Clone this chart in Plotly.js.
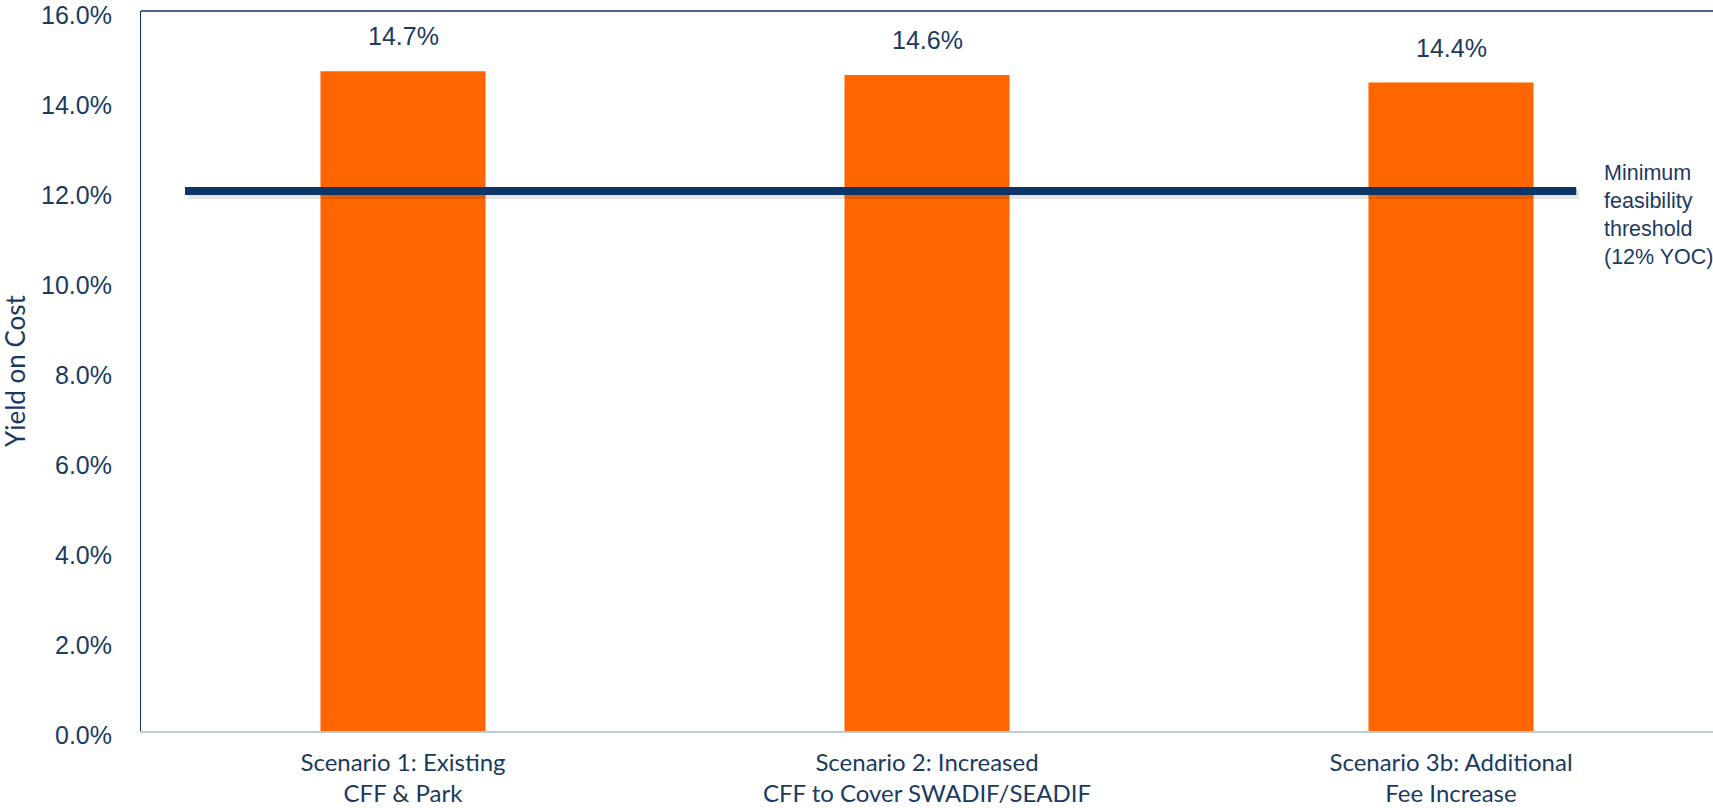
<!DOCTYPE html>
<html>
<head>
<meta charset="utf-8">
<script src="https://cdn.plot.ly/plotly-3.0.1.min.js"></script>
<style>
html,body{margin:0;padding:0;background:#fff;}
#chart{width:1713px;height:808px;}
</style>
</head>
<body>
<div id="chart"></div>
<script>
// ---- data ----
const categories = [
  "Scenario 1: Existing<br>CFF & Park",
  "Scenario 2: Increased<br>CFF to Cover SWADIF/SEADIF",
  "Scenario 3b: Additional<br>Fee Increase"
];
const yieldOnCost = [0.1466, 0.1458, 0.1441];
const dataLabels = ["14.7%", "14.6%", "14.4%"];
const thresholdValue = [0.12];
const thresholdLabel = ["Minimum<br>feasibility<br>threshold<br>(12% YOC)"];
const yTickVals = [0, 0.02, 0.04, 0.06, 0.08, 0.10, 0.12, 0.14, 0.16];
const yTickText = ["0.0%", "2.0%", "4.0%", "6.0%", "8.0%", "10.0%", "12.0%", "14.0%", "16.0%"];

// ---- styles ----
const NAVY_TEXT = "#1B3A62";
const NAVY_LINE = "#0D3668";
const ORANGE = "#FF6600";
const NUM_FONT = "Liberation Sans, Arial, sans-serif";
const CAT_FONT = "Lato, Carlito, Calibri, sans-serif";

const barTrace = {
  type: "bar",
  x: categories,
  y: yieldOnCost,
  width: 0.315,
  marker: { color: ORANGE, line: { width: 0 } },
  hoverinfo: "skip",
  showlegend: false
};

const labelAnnotations = yieldOnCost.map((v, i) => ({
  xref: "x", yref: "y",
  x: categories[i], y: v,
  text: dataLabels[i],
  showarrow: false,
  yanchor: "bottom",
  yshift: 19,
  font: { family: NUM_FONT, size: 25, color: NAVY_TEXT }
}));

// y tick labels placed on the y scale (sit a few px below each tick, as in the original)
const tickAnnotations = yTickVals.map((v, i) => ({
  xref: "paper", yref: "y",
  x: 0, y: v,
  text: yTickText[i],
  showarrow: false,
  xanchor: "right", yanchor: "middle",
  xshift: -27,
  yshift: -3.5,
  font: { family: NUM_FONT, size: 25, color: NAVY_TEXT }
}));

const layout = {
  width: 1713,
  height: 808,
  margin: { l: 141, r: 0, t: 11, b: 77, pad: 0 },
  paper_bgcolor: "#ffffff",
  plot_bgcolor: "#ffffff",
  showlegend: false,
  xaxis: {
    type: "category",
    range: [-0.5, 2.5],
    showgrid: false,
    zeroline: false,
    showline: true,
    linecolor: "#BFCBDB",
    linewidth: 2,
    ticks: "",
    ticklabelstandoff: 9,
    tickfont: { family: CAT_FONT, size: 24, color: NAVY_TEXT },
    fixedrange: true
  },
  yaxis: {
    range: [0, 0.16],
    tickvals: yTickVals,
    ticktext: yTickText,
    showticklabels: false,
    showgrid: false,
    zeroline: false,
    showline: true,
    linecolor: NAVY_LINE,
    linewidth: 1.5,
    ticks: "",
    fixedrange: true
  },
  shapes: [
    // top frame line
    { type: "line", xref: "paper", yref: "paper", x0: 0, x1: 1, y0: 1, y1: 1,
      line: { color: NAVY_LINE, width: 1.5 } },
    // soft shadow below threshold line
    { type: "line", xref: "x", yref: "y", x0: -0.41, x1: 2.245,
      y0: thresholdValue[0] - 0.0008, y1: thresholdValue[0] - 0.0008,
      line: { color: "rgba(0,0,0,0.10)", width: 9 } },
    // threshold line
    { type: "line", xref: "x", yref: "y", x0: -0.416, x1: 2.239,
      y0: thresholdValue[0], y1: thresholdValue[0],
      line: { color: NAVY_LINE, width: 8 } }
  ],
  annotations: labelAnnotations.concat(tickAnnotations, [
    {
      xref: "x", yref: "y",
      x: 2.289, y: thresholdValue[0],
      text: thresholdLabel[0],
      showarrow: false,
      xanchor: "left", yanchor: "middle",
      align: "left",
      yshift: -24,
      font: { family: NUM_FONT, size: 21.5, color: NAVY_TEXT }
    },
    {
      xref: "paper", yref: "paper",
      x: 0, y: 0.5,
      xshift: -126,
      text: "Yield on Cost",
      textangle: -90,
      showarrow: false,
      xanchor: "center", yanchor: "middle",
      font: { family: CAT_FONT, size: 26, color: NAVY_TEXT }
    }
  ])
};

Plotly.newPlot("chart", [barTrace], layout, { displayModeBar: false, staticPlot: true });
</script>
</body>
</html>
